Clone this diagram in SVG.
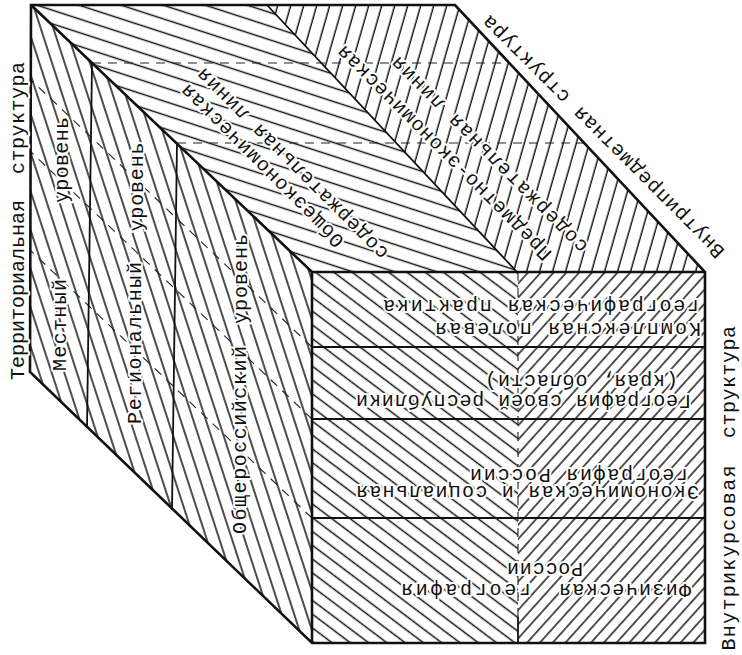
<svg xmlns="http://www.w3.org/2000/svg" width="742" height="655" viewBox="0 0 742 655">
<style>
.t{font-family:"Liberation Mono","DejaVu Sans Mono",monospace;font-size:20px;fill:#111;paint-order:stroke;stroke:#fff;stroke-width:4px;stroke-linejoin:round}
.edge{fill:none;stroke:#111;stroke-width:2.6;stroke-linejoin:miter}
.div{fill:none;stroke:#111;stroke-width:1.8}
.hid{fill:none;stroke:#222;stroke-width:1.1;stroke-dasharray:9 7}
</style>
<defs>
<pattern id="hLeft" patternUnits="userSpaceOnUse" width="60" height="12" patternTransform="rotate(72)"><line x1="0" y1="6" x2="60" y2="6" stroke="#111" stroke-width="1.3"/></pattern>
<pattern id="hTopL" patternUnits="userSpaceOnUse" width="60" height="13" patternTransform="rotate(18)"><line x1="0" y1="6.5" x2="60" y2="6.5" stroke="#111" stroke-width="1.3"/></pattern>
<pattern id="hTopR" patternUnits="userSpaceOnUse" width="60" height="12.5" patternTransform="rotate(-74)"><line x1="0" y1="6" x2="60" y2="6" stroke="#111" stroke-width="1.3"/></pattern>
<pattern id="hFrontL" patternUnits="userSpaceOnUse" width="60" height="11" patternTransform="rotate(37)"><line x1="0" y1="5.5" x2="60" y2="5.5" stroke="#111" stroke-width="1.3"/></pattern>
<pattern id="hFrontR" patternUnits="userSpaceOnUse" width="60" height="9.5" patternTransform="rotate(-48)"><line x1="0" y1="4.75" x2="60" y2="4.75" stroke="#111" stroke-width="1.3"/></pattern>
</defs>
<rect width="742" height="655" fill="#fff"/>

<g id="faces">
<polygon id="left-face" points="31,5 312,272 312,643 30,372" fill="url(#hLeft)"/>
<polygon id="top-left" points="31,5 267,5 517,272 312,272" fill="url(#hTopL)"/>
<polygon id="top-right" points="267,5 455,5 705,272 517,272" fill="url(#hTopR)"/>
<polygon id="front-left" points="312,272 518,272 518,643 312,643" fill="url(#hFrontL)"/>
<polygon id="front-right" points="518,272 705,272 705,643 518,643" fill="url(#hFrontR)"/>
</g>

<g id="connectors">
<path class="hid" d="M92,63 H509 M177,143 H584 M312,347 L30,79 M312,419 L30,151 M312,518 L30,250 M518,272 V617"/>
<path class="div" d="M92,63 L87,428 M177,143 L172,510 M267,5 L517,272 M312,347 H705 M312,419 H705 M312,518 H705 M518,617 V643"/>
<path class="edge" d="M31,5 L455,5 L705,272 L705,643 L312,643 L30,372 Z M31,5 L312,272 L705,272 M312,272 V643"/>
</g>

<g id="top-texts">
<text class="t" text-anchor="middle" transform="translate(263,165) rotate(225)" y="5" textLength="222" lengthAdjust="spacing">Общеэкономическая</text>
<text class="t" text-anchor="middle" transform="translate(293,163) rotate(225)" y="5" textLength="262" lengthAdjust="spacing">содержательная линия</text>
<text class="t" text-anchor="middle" transform="translate(445,152) rotate(225)" y="5" textLength="295" lengthAdjust="spacing">Предметно-экономическая</text>
<text class="t" text-anchor="middle" transform="translate(490,154) rotate(225)" y="5" textLength="269" lengthAdjust="spacing">содержательная линия</text>
<text class="t" text-anchor="middle" transform="translate(604,136) rotate(225)" y="5" textLength="334" lengthAdjust="spacing">Внутрипредметная структура</text>
</g>

<g id="left-texts">
<text class="t" text-anchor="middle" transform="translate(19,290) rotate(-90)" y="5" textLength="180" lengthAdjust="spacing">Территориальная</text>
<text class="t" text-anchor="middle" transform="translate(19,118) rotate(-90)" y="5" textLength="112" lengthAdjust="spacing">структура</text>
<text class="t" text-anchor="middle" transform="translate(61,325) rotate(-90)" y="5" textLength="92" lengthAdjust="spacing">Местный</text>
<text class="t" text-anchor="middle" transform="translate(63,160) rotate(-90)" y="5" textLength="86" lengthAdjust="spacing">уровень</text>
<text class="t" text-anchor="middle" transform="translate(136,343) rotate(-90)" y="5" textLength="162" lengthAdjust="spacing">Региональный</text>
<text class="t" text-anchor="middle" transform="translate(138,187) rotate(-90)" y="5" textLength="89" lengthAdjust="spacing">уровень</text>
<text class="t" text-anchor="middle" transform="translate(241,440) rotate(-90)" y="5" textLength="188" lengthAdjust="spacing">Общероссийский</text>
<text class="t" text-anchor="middle" transform="translate(242,279) rotate(-90)" y="5" textLength="90" lengthAdjust="spacing">уровень</text>
</g>

<g id="right-texts">
<text class="t" text-anchor="middle" transform="translate(730,558) rotate(-90)" y="5" textLength="185" lengthAdjust="spacing">Внутрикурсовая</text>
<text class="t" text-anchor="middle" transform="translate(730,382) rotate(-90)" y="5" textLength="112" lengthAdjust="spacing">структура</text>
</g>

<g id="front-texts">
<text class="t" transform="translate(701,328) rotate(180)" y="5" textLength="266" lengthAdjust="spacing">Комплексная полевая</text>
<text class="t" transform="translate(699,305) rotate(180)" y="5" textLength="316" lengthAdjust="spacing">географическая практика</text>
<text class="t" transform="translate(691,400) rotate(180)" y="5" textLength="335" lengthAdjust="spacing">География своей республики</text>
<text class="t" transform="translate(678,380) rotate(180)" y="5" textLength="193" lengthAdjust="spacing">(края, области)</text>
<text class="t" transform="translate(699,491) rotate(180)" y="5" textLength="343" lengthAdjust="spacing">Экономическая и социальная</text>
<text class="t" transform="translate(688,474) rotate(180)" y="5" textLength="218" lengthAdjust="spacing">география России</text>
<text class="t" transform="translate(691,589) rotate(180)" y="5" textLength="132" lengthAdjust="spacing">Физическая</text>
<text class="t" transform="translate(531,589) rotate(180)" y="5" textLength="130" lengthAdjust="spacing">география</text>
<text class="t" transform="translate(583,568) rotate(180)" y="5" textLength="76" lengthAdjust="spacing">России</text>
</g>
</svg>
